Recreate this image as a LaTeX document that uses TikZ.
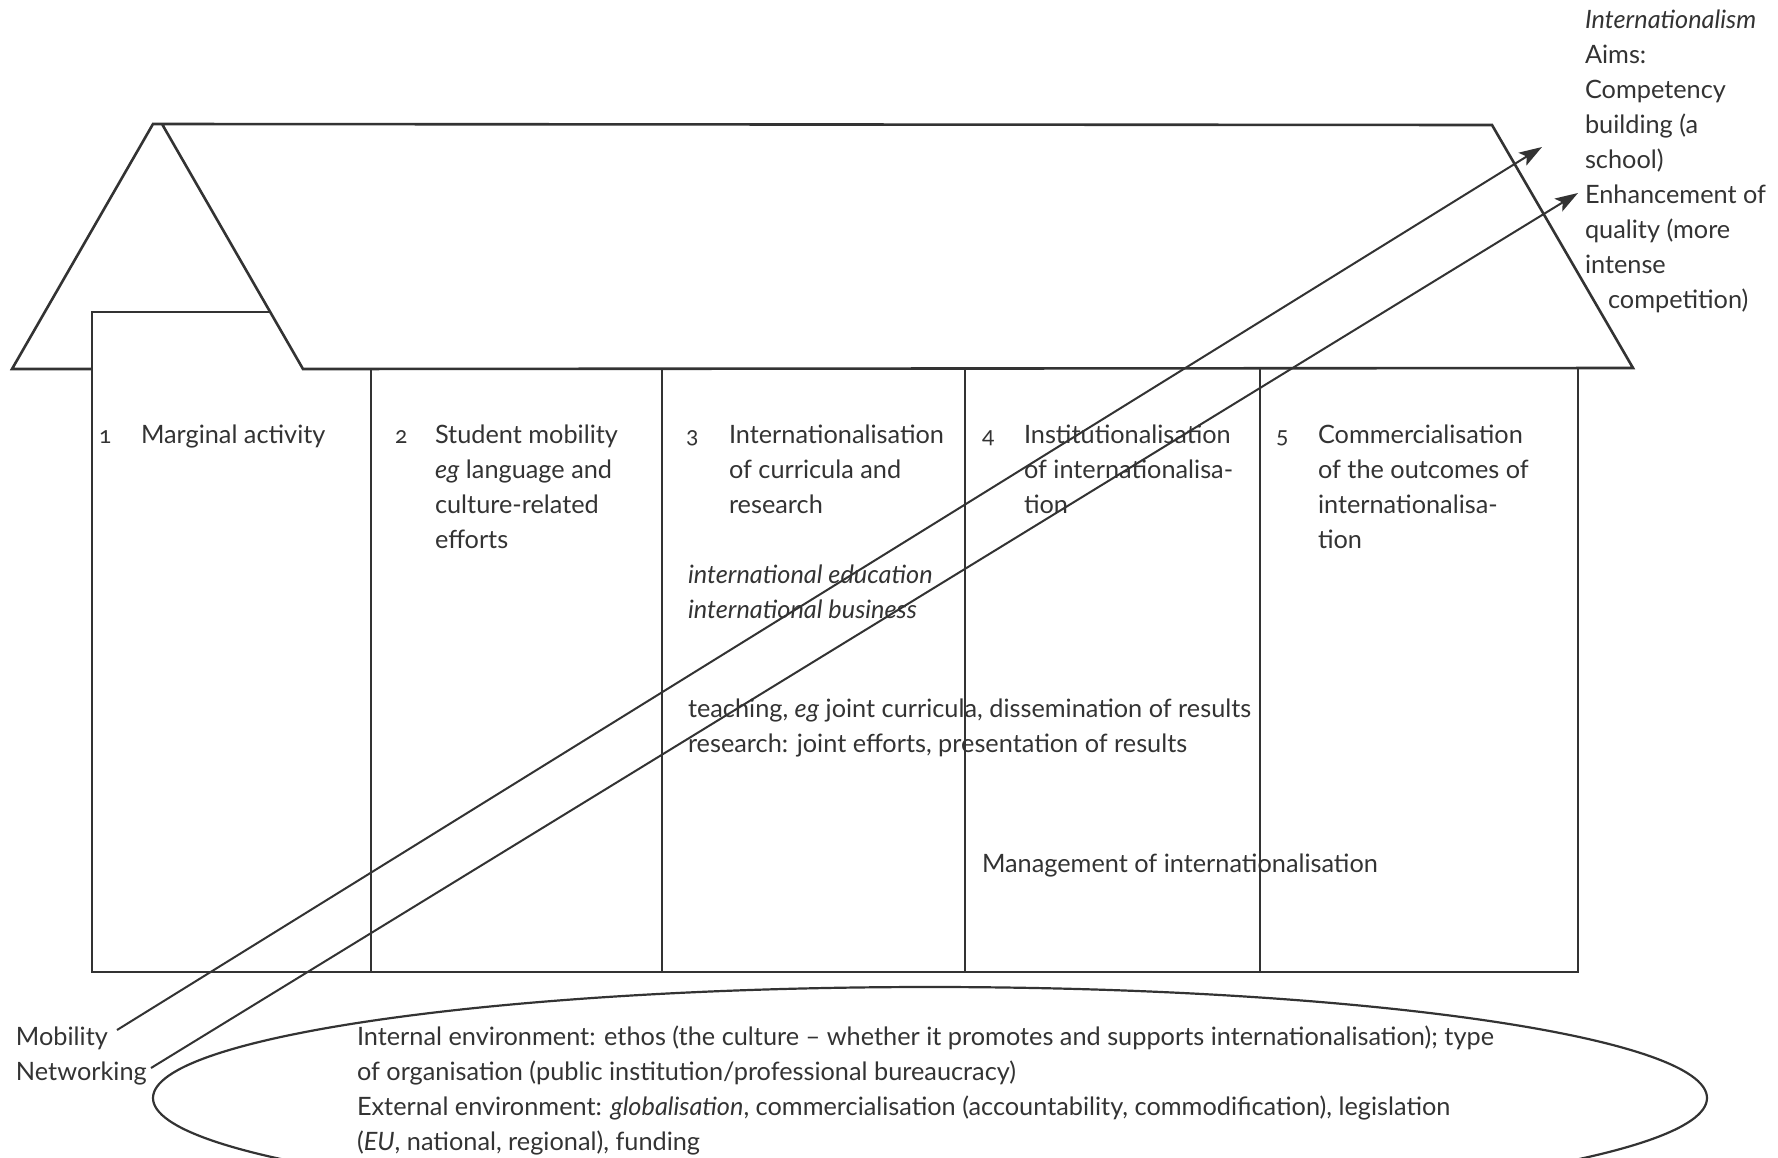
\documentclass[tikz,border=0pt]{standalone}
\usepackage{fontspec}
\setmainfont{Lato}
\newfontfamily\osf{Lato}[Numbers=OldStyle]
\usetikzlibrary{arrows.meta}
\definecolor{ink}{gray}{0.2}
\begin{document}
\begin{tikzpicture}[x=1pt,y=-1pt,
  house/.style={draw=ink, line width=2.6pt, line join=miter},
  arr/.style={draw=ink, line width=2pt, -{Stealth[length=23pt,width=15pt,inset=5pt]}},
  txt/.style={anchor=base west, inner sep=0pt, outer sep=0pt, align=left, text=ink, font=\fontsize{25.3}{35}\selectfont},
  num/.style={txt, font=\fontsize{23}{35}\selectfont\osf},
  envline/.style={draw=ink, line width=2.2pt}]
\useasboundingbox (0,0) rectangle (1778,1157);
\clip (0,0) rectangle (1778,1157);
% roof and gable
\draw[house] (92,369) -- (12,369) -- (153,124) -- (1492,125) -- (1633,368) -- (303,369) -- (162,124) -- (153,124);
% body
\draw[house] (269,312) -- (92,312) -- (92,972) -- (1578,972) -- (1578,368);
\foreach \cx in {371,662,965,1260} \draw[house] (\cx,369) -- (\cx,972);
% column texts (base anchor = baseline of last line)
\node[num] (n1) at (99,443) {1};
\node[txt] (t1) at (141,443) {Marginal activity};
\node[num] (n2) at (395,443) {2};
\node[txt] (t2) at (435,548) {Student mobility\\\textit{eg} language and\\culture-related\\efforts};
\node[num] (n3) at (686,443) {3};
\node[txt] (t3) at (729,513) {Internationalisation\\of curricula and\\research};
\node[num] (n4) at (982,443) {4};
\node[txt] (t4) at (1024,513) {Institutionalisation\\of internationalisa-\\tion};
\node[num] (n5) at (1276,443) {5};
\node[txt] (t5) at (1318,548) {Commercialisation\\of the outcomes of\\internationalisa-\\tion};
\node[txt] (ie) at (688,618) {\textit{international education}\\\textit{international business}};
\node[txt] (teach) at (688,752) {teaching, \textit{eg} joint curricula, dissemination of results\\research: joint efforts, presentation of results};
\node[txt] (mgmt) at (982,872) {Management of internationalisation};
\node[txt] (aims) at (1585,308) {\textit{Internationalism}\\Aims:\\Competency\\building (a\\school)\\Enhancement of\\quality (more\\intense\\\hspace*{23pt}competition)};
\node[txt] (mob) at (16,1045) {Mobility};
\node[txt] (net) at (16,1080) {Networking};
\node[txt] (envtxt) at (357,1150) {Internal environment: ethos (the culture -- whether it promotes and supports internationalisation); type\\of organisation (public institution/professional bureaucracy)\\External environment: \textit{globalisation}, commercialisation (accountability, commodification), legislation\\(\textit{EU}, national, regional), funding};
% environment ellipse
\draw[envline] (930,1098) ellipse [x radius=777pt, y radius=111pt];
% arrows
\coordinate (mobTail) at (117,1030);
\coordinate (mobHead) at (1542,147);
\coordinate (netTail) at (151,1068);
\coordinate (netHead) at (1578,193);
\draw[arr] (mobTail) -- (mobHead);
\draw[arr] (netTail) -- (netHead);
\end{tikzpicture}
\end{document}
